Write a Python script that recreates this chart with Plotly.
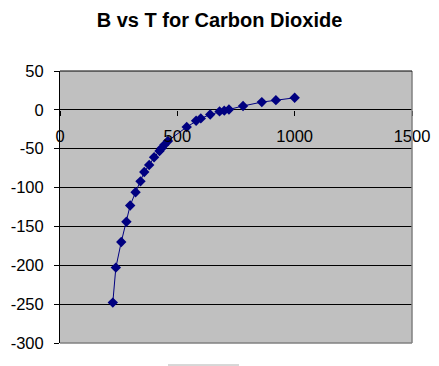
import plotly.graph_objects as go

# Data
temperature_K = [225, 238, 261, 283, 299, 322, 343, 359, 380, 401, 424, 434, 445, 460,
                 540, 580, 600, 640, 680, 700, 720, 780, 860, 920, 1000]
virial_B = [-248, -203, -170, -144, -123, -106, -92, -80, -71, -61, -53, -49, -45, -40,
            -22, -14, -11, -6, -2, -1, 0.5, 5, 10, 12.5, 15.5]

x_ticks = [0, 500, 1000, 1500]
y_ticks = [50, 0, -50, -100, -150, -200, -250, -300]
y_range = [-300, 50]

W, H = 439, 366
L, R, T, B = 60, 27, 71, 23
plot_h = H - T - B
zero_pos = (0 - y_range[0]) / (y_range[1] - y_range[0])  # x axis crosses at y=0

font_family = "Liberation Sans, Arial, sans-serif"

fig = go.Figure()
fig.add_trace(go.Scatter(
    x=temperature_K, y=virial_B, mode="lines+markers",
    line=dict(color="#000080", width=1),
    marker=dict(symbol="diamond", size=8, color="#000080"),
    showlegend=False,
))

fig.update_layout(
    width=W, height=H,
    margin=dict(l=L, r=R, t=T, b=B, autoexpand=False),
    paper_bgcolor="white",
    plot_bgcolor="#C0C0C0",
    font=dict(family=font_family, color="black"),
    title=dict(text="<b>B vs T for Carbon Dioxide</b>", x=0.5, xref="container",
               xanchor="center", y=1 - 20 / H, yref="container", yanchor="middle",
               font=dict(size=20, family=font_family, color="black")),
    xaxis=dict(range=[0, 1500], tickvals=x_ticks, ticktext=[str(v) for v in x_ticks],
               showgrid=False, zeroline=False, showline=False,
               ticks="outside", ticklen=5, tickcolor="black",
               anchor="free", position=zero_pos, ticklabelstandoff=6,
               tickfont=dict(size=16.5)),
    yaxis=dict(range=y_range, tickvals=y_ticks, ticktext=[str(v) for v in y_ticks],
               showgrid=True, gridcolor="black", gridwidth=1, zeroline=False,
               showline=True, linecolor="black", linewidth=1, ticks="outside",
               ticklen=5, tickcolor="black", ticklabelstandoff=7,
               tickfont=dict(size=16.5)),
    shapes=[
        dict(type="line", xref="paper", yref="paper", x0=1, x1=1, y0=0, y1=1,
             line=dict(color="#808080", width=1.5)),
        dict(type="line", xref="paper", yref="paper", x0=0, x1=1, y0=0, y1=0,
             line=dict(color="#808080", width=1.5)),
        dict(type="line", xref="paper", yref="paper", x0=0, x1=1, y0=1, y1=1,
             line=dict(color="black", width=1)),
        dict(type="line", xref="paper", yref="paper",
             x0=(168 - L) / (W - L - R), x1=(239 - L) / (W - L - R),
             y0=-(365 - 343) / plot_h, y1=-(365 - 343) / plot_h,
             line=dict(color="#B0B0B0", width=1)),
    ],
)

fig.write_html("out.html", config={"displayModeBar": False},
               post_script="document.body.style.margin='0';document.body.style.overflow='hidden';")
